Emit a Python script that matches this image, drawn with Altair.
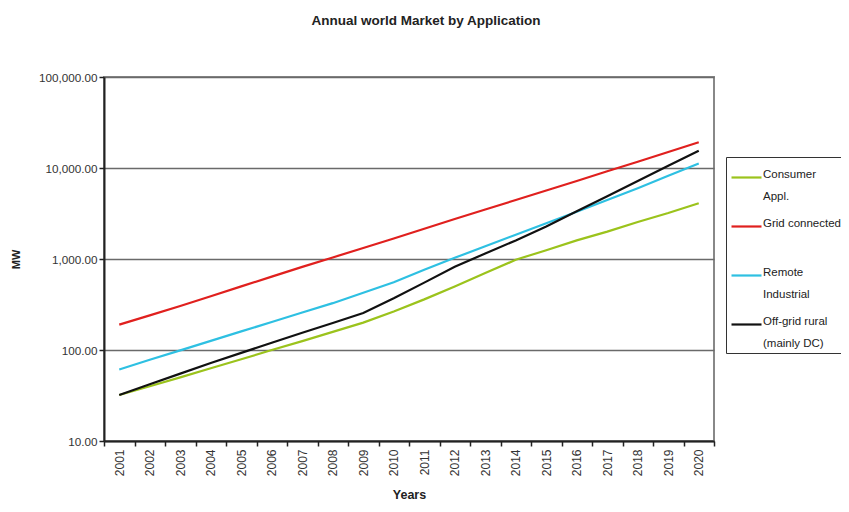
import altair as alt
import pandas as pd

years = ["2001", "2002", "2003", "2004", "2005", "2006", "2007", "2008", "2009", "2010",
         "2011", "2012", "2013", "2014", "2015", "2016", "2017", "2018", "2019", "2020"]

series_names = ["Consumer Appl.", "Grid connected", "Remote Industrial", "Off-grid rural (mainly DC)"]
series_colors = ["#9BC31C", "#E0201E", "#2EC0E2", "#111111"]

consumer = [32, 40, 50, 63, 79, 100, 125, 158, 200, 265, 360, 500, 700, 980, 1250, 1600, 2000, 2550, 3200, 4100]
grid = [190, 240, 305, 390, 500, 640, 820, 1040, 1320, 1680, 2150, 2750, 3500, 4450, 5650, 7200, 9200, 11700, 15000, 19200]
remote = [61, 78, 99, 126, 160, 203, 258, 327, 425, 555, 760, 1030, 1380, 1850, 2470, 3300, 4450, 6000, 8200, 11200]
offgrid = [32, 42, 55, 72, 93, 120, 155, 198, 255, 370, 550, 820, 1150, 1600, 2280, 3350, 4900, 7200, 10600, 15500]

y_ticks = [10, 100, 1000, 10000, 100000]

rows = []
for name, vals in zip(series_names, [consumer, grid, remote, offgrid]):
    for yr, v in zip(years, vals):
        rows.append({"Year": yr, "MW": v, "Series": name})
df = pd.DataFrame(rows)

FONT = "Liberation Sans"

label_expr = (
    "datum.label == 'Consumer Appl.' ? ['Consumer', 'Appl.'] : "
    "datum.label == 'Grid connected' ? ['Grid connected', ' '] : "
    "datum.label == 'Remote Industrial' ? ['Remote', 'Industrial'] : "
    "['Off-grid rural', '(mainly DC)']"
)

chart = alt.Chart(df).mark_line(strokeWidth=2.2).encode(
    x=alt.X("Year:O",
            scale=alt.Scale(type="band", paddingInner=0, paddingOuter=0),
            axis=alt.Axis(title="Years", labelAngle=-90, tickBand="extent",
                          labelFont=FONT, labelFontSize=12, labelColor="#333",
                          labelPadding=3, tickSize=5, tickColor="#222", tickWidth=1.5,
                          domainColor="#222", domainWidth=2,
                          titleFont=FONT, titleFontSize=12.5, titleFontWeight="bold",
                          titleColor="#222", titleX=305, titleY=53, titleBaseline="middle",
                          grid=False)),
    y=alt.Y("MW:Q",
            scale=alt.Scale(type="log", domain=[10, 100000]),
            axis=alt.Axis(title="MW", values=y_ticks, format=",.2f",
                          labelFont=FONT, labelFontSize=11.7, labelColor="#333",
                          labelPadding=2, tickSize=5, tickColor="#222", tickWidth=1.5,
                          domainColor="#222", domainWidth=2,
                          gridColor="#6a6a6a", gridWidth=1.5,
                          titleFont=FONT, titleFontSize=11, titleFontWeight="bold",
                          titleColor="#222", titleX=-88, titleY=182, titleBaseline="middle")),
    color=alt.Color("Series:N",
                    scale=alt.Scale(domain=series_names, range=series_colors),
                    sort=series_names,
                    legend=alt.Legend(title=None, orient="none", legendX=622, legendY=80,
                                      symbolType="stroke", symbolSize=900, symbolStrokeWidth=2.2,
                                      labelFont=FONT, labelFontSize=11.5, labelColor="#222",
                                      labelBaseline="alphabetic", labelExpr=label_expr,
                                      labelOffset=0, rowPadding=8, labelLimit=200,
                                      strokeColor="#333", padding=4)),
).properties(
    width=610,
    height=364,
    title=alt.TitleParams("Annual world Market by Application", font=FONT, fontSize=13.5,
                          fontWeight="bold", color="#222", anchor="middle", frame="group",
                          dx=17, offset=45),
    autosize=alt.AutoSizeParams(type="none"),
    padding={"left": 96, "top": 69, "right": 127, "bottom": 62},
).configure(
    style={"guide-label": {"lineHeight": 22}},
    view=alt.ViewConfig(stroke="#888", strokeWidth=2),
)

chart.save("out.html", embed_options={"renderer": "svg", "actions": False})
